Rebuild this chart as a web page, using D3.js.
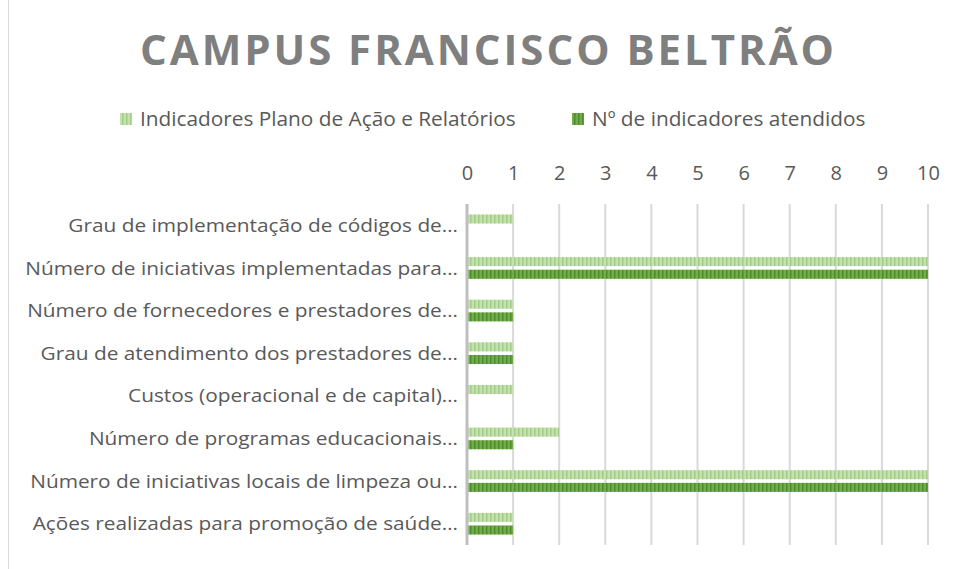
<!DOCTYPE html>
<html><head><meta charset="utf-8">
<script src="https://cdn.jsdelivr.net/npm/d3@7/dist/d3.min.js"></script>
<style>body{margin:0;background:#fff}svg{display:block}</style>
</head><body>
<script>
const title = "CAMPUS FRANCISCO BELTRÃO";
const categories = [
  "Grau de implementação de códigos de…",
  "Número de iniciativas implementadas para…",
  "Número de fornecedores e prestadores de…",
  "Grau de atendimento dos prestadores de…",
  "Custos (operacional e de capital)…",
  "Número de programas educacionais…",
  "Número de iniciativas locais de limpeza ou…",
  "Ações realizadas para promoção de saúde…"
];
const seriesNames = ["Indicadores Plano de Ação e Relatórios", "Nº de indicadores atendidos"];
const planoValues = [1, 10, 1, 1, 1, 2, 10, 1];
const atendidosValues = [0, 10, 1, 1, 0, 1, 10, 1];
const tickValues = [0,1,2,3,4,5,6,7,8,9,10];

const W = 957, H = 569;
const svg = d3.select("body").append("svg").attr("width", W).attr("height", H);
const defs = svg.append("defs");
const pats = [
  {id:"pLight", base:"#c5e0b2", stripe:"#a2cc86"},
  {id:"pDark", base:"#72ae48", stripe:"#4f8a2c"}
];
pats.forEach(p => {
  const pt = defs.append("pattern").attr("id", p.id).attr("patternUnits","userSpaceOnUse")
    .attr("width", 4).attr("height", 4);
  pt.append("rect").attr("width",4).attr("height",4).attr("fill",p.base);
  pt.append("rect").attr("x",2).attr("width",1.5).attr("height",4).attr("fill",p.stripe);
});

// border
svg.append("rect").attr("x",8.5).attr("y",-5).attr("width",W).attr("height",H+10)
  .attr("fill","none").attr("stroke","#d9d9d9").attr("stroke-width",1);

const FONT = "'Open Sans', 'Noto Sans', sans-serif";

svg.append("text").attr("x", 487).attr("y", 65).attr("text-anchor","middle")
  .attr("font-family", FONT).attr("font-weight", 700).attr("font-size", 42)
  .attr("fill","#7f7f7f").attr("textLength", 694).attr("lengthAdjust","spacing")
  .text(title);

const margin = {left: 467, right: 29, top: 204, bottom: 24};
const x = d3.scaleLinear().domain([0, 10]).range([margin.left, W - margin.right]);
const y = d3.scaleBand().domain(categories).range([margin.top, H - margin.bottom]).paddingInner(0.49).paddingOuter(0.245);
const ys = d3.scaleBand().domain(seriesNames).range([0, y.bandwidth()]).paddingInner(0.28);

// gridlines
const g = svg.append("g");
g.selectAll("line.grid").data(tickValues.slice(1)).join("line")
  .attr("x1", d => x(d)).attr("x2", d => x(d))
  .attr("y1", margin.top).attr("y2", H - margin.bottom + 0)
  .attr("stroke", "#d9d9d9").attr("stroke-width", 2);

// top axis labels
const ax = d3.axisTop(x).tickValues(tickValues).tickSize(0).tickPadding(0).tickFormat(d3.format("d"));
const axG = svg.append("g").attr("transform", `translate(0,${180})`).call(ax);
axG.select(".domain").remove();
axG.selectAll("text").attr("font-family", FONT).attr("font-size", 20).attr("fill", "#595959").attr("dy", 0);

// bars
const data = categories.map((c,i) => ({c, vals: [planoValues[i], atendidosValues[i]]}));
const groups = svg.append("g").selectAll("g").data(data).join("g")
  .attr("transform", d => `translate(0,${y(d.c)})`);
groups.selectAll("rect").data(d => d.vals.map((v,j) => ({v, s: seriesNames[j], j}))).join("rect")
  .attr("x", x(0)).attr("y", d => ys(d.s)).attr("height", ys.bandwidth())
  .attr("width", d => x(d.v) - x(0))
  .attr("fill", d => d.j === 0 ? "url(#pLight)" : "url(#pDark)");

// axis line
svg.append("line").attr("x1", x(0)).attr("x2", x(0)).attr("y1", margin.top).attr("y2", H - margin.bottom)
  .attr("stroke", "#bfbfbf").attr("stroke-width", 3);

// category labels
const ay = d3.axisLeft(y).tickSize(0).tickPadding(8);
const ayG = svg.append("g").attr("transform", `translate(${x(0) - 1},0)`).call(ay);
ayG.select(".domain").remove();
ayG.selectAll("text").attr("font-family", FONT).attr("font-size", 19).attr("fill", "#595959").attr("dy","0.35em");
const ref = ayG.selectAll("text").nodes()[1];
const wRef = ref.getComputedTextLength();
const sx = 433 / wRef;
ayG.selectAll(".tick text").attr("transform", `scale(${sx},1)`).attr("x", -8 / sx);

// legend
const leg = svg.append("g");
const legX = [120, 572];
seriesNames.forEach((s, i) => {
  leg.append("rect").attr("x", legX[i]).attr("y", 113).attr("width", 12).attr("height", 12)
    .attr("fill", i === 0 ? "url(#pLight)" : "url(#pDark)");
  leg.append("text").attr("x", legX[i] + 20).attr("y", 119).attr("dy","0.35em")
    .attr("font-family", FONT).attr("font-size", 20.8).attr("fill", "#595959").text(s);
});
</script>
</body></html>
